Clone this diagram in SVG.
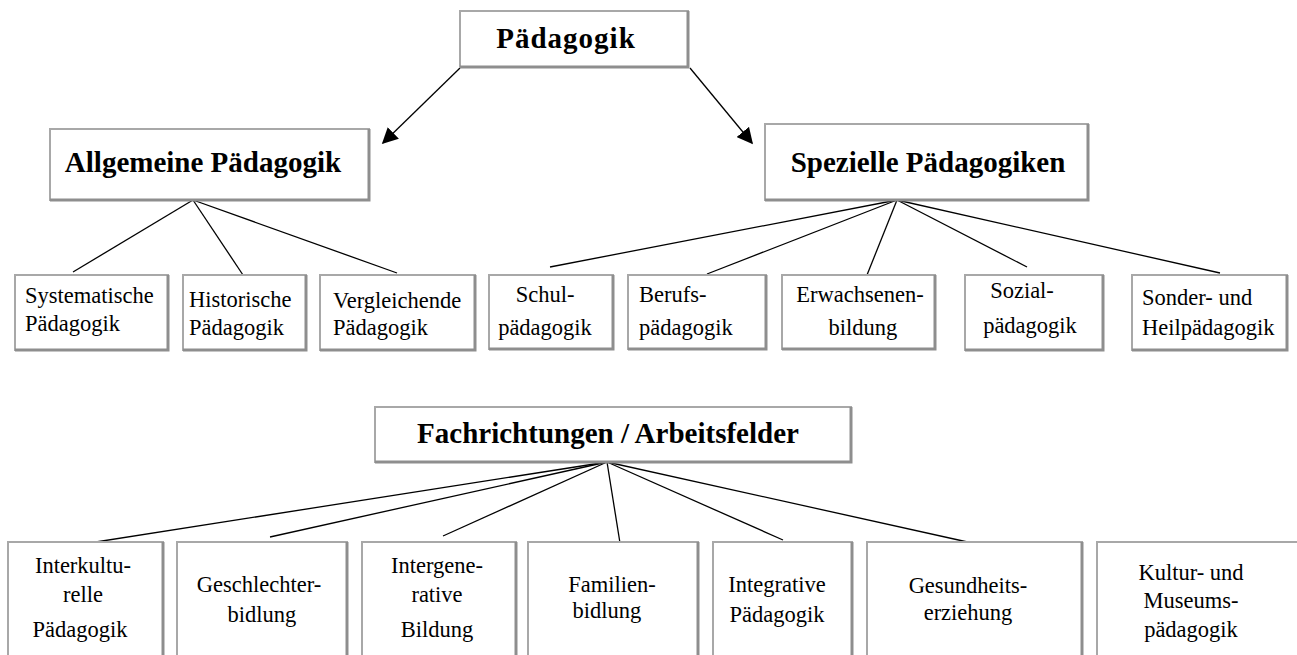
<svg xmlns="http://www.w3.org/2000/svg" width="1297" height="655" viewBox="0 0 1297 655">
<style>
.box{fill:#fff;stroke:#a8a8a8;stroke-width:2}
.sh{fill:none;stroke:#8e8e8e;stroke-width:3}
.h{font-family:"Liberation Serif",serif;font-weight:bold;font-size:29px;fill:#000;text-anchor:middle}
.t{font-family:"Liberation Serif",serif;font-size:22.5px;fill:#000}
.c{text-anchor:middle}
.ln{stroke:#000;stroke-width:1.3;fill:none}
</style>
<defs>
<marker id="ah" viewBox="0 0 10 10" refX="9" refY="5" markerWidth="16" markerHeight="16" markerUnits="userSpaceOnUse" orient="auto">
<path d="M0,0 L10,5 L0,10 Z" fill="#000"/>
</marker>
</defs>
<rect width="1297" height="655" fill="#fff"/>
<g id="connectors">
<line class="ln" x1="460" y1="68" x2="383" y2="143" marker-end="url(#ah)"/>
<line class="ln" x1="690" y1="68" x2="752" y2="143" marker-end="url(#ah)"/>
<line class="ln" x1="193" y1="200" x2="73" y2="272"/>
<line class="ln" x1="193" y1="200" x2="243" y2="275"/>
<line class="ln" x1="193" y1="200" x2="397" y2="273"/>
<line class="ln" x1="897" y1="200" x2="550" y2="267"/>
<line class="ln" x1="897" y1="200" x2="707" y2="274"/>
<line class="ln" x1="897" y1="200" x2="867" y2="275"/>
<line class="ln" x1="897" y1="200" x2="1027" y2="267"/>
<line class="ln" x1="897" y1="200" x2="1220" y2="273"/>
<line class="ln" x1="607" y1="462" x2="83" y2="544"/>
<line class="ln" x1="607" y1="462" x2="270" y2="537"/>
<line class="ln" x1="607" y1="462" x2="443" y2="536"/>
<line class="ln" x1="607" y1="462" x2="620" y2="543"/>
<line class="ln" x1="607" y1="462" x2="783" y2="540"/>
<line class="ln" x1="607" y1="462" x2="972" y2="543"/>
</g>
<g id="n-paedagogik">
<rect class="box" x="460" y="11" width="228" height="56"/>
<path class="sh" d="M460,67 H688 V11"/>
<text class="h" x="566" y="48" letter-spacing="1">Pädagogik</text>
</g>
<g id="n-allgemeine">
<rect class="box" x="50" y="129" width="319" height="71"/>
<path class="sh" d="M50,200 H369 V129"/>
<text class="h" x="203" y="172">Allgemeine Pädagogik</text>
</g>
<g id="n-spezielle">
<rect class="box" x="765" y="124" width="323" height="76"/>
<path class="sh" d="M765,200 H1088 V124"/>
<text class="h" x="928" y="172">Spezielle Pädagogiken</text>
</g>
<g id="n-fach">
<rect class="box" x="375" y="407" width="476" height="55"/>
<path class="sh" d="M375,462 H851 V407"/>
<text class="h" x="608" y="443">Fachrichtungen / Arbeitsfelder</text>
</g>
<g id="n-systematische">
<rect class="box" x="15" y="275" width="153" height="75"/>
<path class="sh" d="M15,350 H168 V275"/>
<text class="t" x="25" y="303">Systematische</text>
<text class="t" x="25" y="331">Pädagogik</text>
</g>
<g id="n-historische">
<rect class="box" x="183" y="275" width="123" height="75"/>
<path class="sh" d="M183,350 H306 V275"/>
<text class="t" x="189" y="307">Historische</text>
<text class="t" x="189" y="335">Pädagogik</text>
</g>
<g id="n-vergleichende">
<rect class="box" x="320" y="275" width="155" height="75"/>
<path class="sh" d="M320,350 H475 V275"/>
<text class="t" x="333" y="308">Vergleichende</text>
<text class="t" x="333" y="335">Pädagogik</text>
</g>
<g id="n-schul">
<rect class="box" x="489" y="275" width="124" height="74"/>
<path class="sh" d="M489,349 H613 V275"/>
<text class="t c" x="545" y="302">Schul-</text>
<text class="t c" x="545" y="335">pädagogik</text>
</g>
<g id="n-berufs">
<rect class="box" x="628" y="275" width="138" height="74"/>
<path class="sh" d="M628,349 H766 V275"/>
<text class="t" x="639" y="302">Berufs-</text>
<text class="t" x="639" y="335">pädagogik</text>
</g>
<g id="n-erwachsenen">
<rect class="box" x="782" y="275" width="153" height="74"/>
<path class="sh" d="M782,349 H935 V275"/>
<text class="t c" x="860" y="302">Erwachsenen-</text>
<text class="t c" x="863" y="335">bildung</text>
</g>
<g id="n-sozial">
<rect class="box" x="965" y="275" width="138" height="75"/>
<path class="sh" d="M965,350 H1103 V275"/>
<text class="t c" x="1022" y="298">Sozial-</text>
<text class="t c" x="1030" y="333">pädagogik</text>
</g>
<g id="n-sonder">
<rect class="box" x="1132" y="275" width="155" height="75"/>
<path class="sh" d="M1132,350 H1287 V275"/>
<text class="t" x="1142" y="305">Sonder- und</text>
<text class="t" x="1142" y="335">Heilpädagogik</text>
</g>
<g id="n-interkulturelle">
<rect class="box" x="8" y="542" width="155" height="120"/>
<path class="sh" d="M163,662 V542"/>
<text class="t c" x="83" y="573">Interkultu-</text>
<text class="t c" x="83" y="602">relle</text>
<text class="t c" x="80" y="637">Pädagogik</text>
</g>
<g id="n-geschlechter">
<rect class="box" x="177" y="542" width="170" height="120"/>
<path class="sh" d="M347,662 V542"/>
<text class="t c" x="259" y="592">Geschlechter-</text>
<text class="t c" x="262" y="622">bidlung</text>
</g>
<g id="n-intergenerative">
<rect class="box" x="362" y="542" width="154" height="120"/>
<path class="sh" d="M516,662 V542"/>
<text class="t c" x="437" y="573">Intergene-</text>
<text class="t c" x="437" y="602">rative</text>
<text class="t c" x="437" y="637">Bildung</text>
</g>
<g id="n-familien">
<rect class="box" x="528" y="542" width="170" height="120"/>
<path class="sh" d="M698,662 V542"/>
<text class="t c" x="612" y="592">Familien-</text>
<text class="t c" x="607" y="618">bidlung</text>
</g>
<g id="n-integrative">
<rect class="box" x="713" y="542" width="139" height="120"/>
<path class="sh" d="M852,662 V542"/>
<text class="t c" x="777" y="592">Integrative</text>
<text class="t c" x="777" y="622">Pädagogik</text>
</g>
<g id="n-gesundheit">
<rect class="box" x="867" y="542" width="215" height="120"/>
<path class="sh" d="M1082,662 V542"/>
<text class="t c" x="968" y="593">Gesundheits-</text>
<text class="t c" x="968" y="620">erziehung</text>
</g>
<g id="n-kultur">
<rect class="box" x="1097" y="542" width="205" height="120"/>
<text class="t c" x="1191" y="580">Kultur- und</text>
<text class="t c" x="1191" y="608">Museums-</text>
<text class="t c" x="1191" y="637">pädagogik</text>
</g>
</svg>
